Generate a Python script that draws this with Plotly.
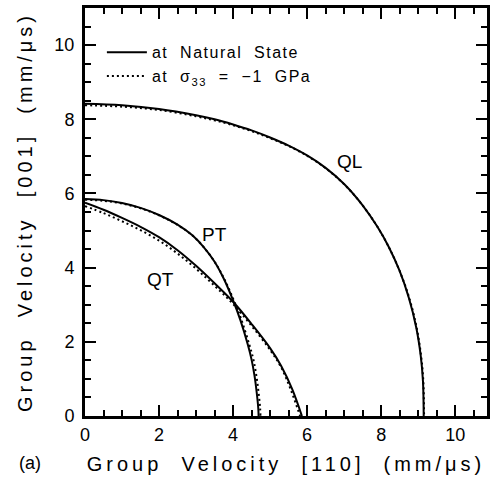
import plotly.graph_objects as go

# ---- data (mm/us) ----
ql_nat_x = [0, 1.0, 2.0, 3.0, 3.5, 4.0, 4.5, 5.0, 5.5, 6.0, 6.5, 7.0, 7.5, 7.9, 8.2, 8.5, 8.75, 8.95, 9.07, 9.13, 9.15]
ql_nat_y = [8.42, 8.38, 8.28, 8.11, 8.00, 7.86, 7.70, 7.51, 7.29, 7.025, 6.69, 6.255, 5.68, 5.10, 4.57, 3.91, 3.18, 2.38, 1.62, 0.94, 0]
ql_str_x = [0, 1.0, 2.0, 3.0, 3.5, 4.0, 4.5, 5.0, 5.5, 6.0, 6.5, 7.0, 7.5, 7.9, 8.2, 8.5, 8.76, 8.96, 9.08, 9.14, 9.16]
ql_str_y = [8.38, 8.34, 8.25, 8.08, 7.97, 7.84, 7.68, 7.49, 7.28, 7.015, 6.68, 6.25, 5.68, 5.10, 4.57, 3.91, 3.18, 2.38, 1.62, 0.94, 0]

pt_nat_x = [0, 0.5, 1.0, 1.5, 2.0, 2.5, 2.9, 3.2, 3.5, 3.75, 4.0, 4.2, 4.4, 4.5, 4.58, 4.64, 4.68, 4.69]
pt_nat_y = [5.85, 5.82, 5.74, 5.61, 5.42, 5.16, 4.87, 4.56, 4.16, 3.70, 3.12, 2.58, 1.92, 1.52, 1.08, 0.62, 0.22, 0]
pt_str_x = [0, 0.5, 1.0, 1.5, 2.0, 2.5, 2.9, 3.2, 3.5, 3.76, 4.02, 4.23, 4.44, 4.55, 4.63, 4.69, 4.73, 4.74]
pt_str_y = [5.83, 5.80, 5.73, 5.60, 5.41, 5.15, 4.87, 4.56, 4.16, 3.70, 3.12, 2.58, 1.92, 1.52, 1.08, 0.62, 0.22, 0]

qt_nat_x = [0, 0.5, 1.0, 1.5, 2.0, 2.5, 3.0, 3.5, 4.0, 4.5, 5.0, 5.3, 5.6, 5.86]
qt_nat_y = [5.75, 5.56, 5.34, 5.10, 4.82, 4.47, 4.05, 3.58, 3.08, 2.48, 1.83, 1.35, 0.72, 0]
qt_str_x = [0, 0.5, 1.0, 1.5, 2.0, 2.5, 3.0, 3.5, 4.0, 4.5, 5.0, 5.3, 5.57, 5.81]
qt_str_y = [5.66, 5.47, 5.25, 5.01, 4.73, 4.38, 3.97, 3.51, 3.02, 2.43, 1.78, 1.31, 0.68, 0]

labels = ["QL", "PT", "QT"]
label_x = [7.14, 3.51, 2.05]
label_y = [6.87, 4.89, 3.68]

legend_names = ["at  Natural  State", "at  σ<sub>33</sub>  =  \u22121  GPa"]

FONT = "Liberation Sans, Arial, sans-serif"

fig = go.Figure()

curves_nat = [(ql_nat_x, ql_nat_y), (pt_nat_x, pt_nat_y), (qt_nat_x, qt_nat_y)]
curves_str = [(ql_str_x, ql_str_y), (pt_str_x, pt_str_y), (qt_str_x, qt_str_y)]

for i, (cx, cy) in enumerate(curves_nat):
    fig.add_trace(go.Scatter(x=cx, y=cy, mode="lines",
                             line=dict(color="black", width=2, shape="spline", smoothing=1.0),
                             name=legend_names[0], showlegend=(i == 0), legendgroup="nat"))
for i, (cx, cy) in enumerate(curves_str):
    fig.add_trace(go.Scatter(x=cx, y=cy, mode="lines",
                             line=dict(color="black", width=2, dash="2px,3px", shape="spline", smoothing=1.0),
                             name=legend_names[1], showlegend=(i == 0), legendgroup="str"))

for t, lx, ly in zip(labels, label_x, label_y):
    fig.add_annotation(x=lx, y=ly, text=t, showarrow=False, font=dict(family=FONT, size=19, color="black"))

fig.add_annotation(xref="paper", yref="paper", x=-0.137, y=-0.115, xanchor="center", yanchor="middle",
                   text="(a)", showarrow=False, font=dict(family=FONT, size=18, color="black"))

axis_common = dict(
    showline=True, linecolor="black", linewidth=3, mirror="allticks",
    ticks="inside", ticklen=11, tickwidth=2, tickcolor="black",
    dtick=2, tick0=0, showgrid=False, zeroline=False, automargin=False,
    tickfont=dict(family=FONT, size=18, color="black"),
    minor=dict(dtick=0.5, ticks="inside", ticklen=6, tickwidth=1.5, tickcolor="black", showgrid=False),
)

fig.update_layout(
    width=495, height=481,
    margin=dict(l=85, r=8, t=8, b=65),
    paper_bgcolor="white", plot_bgcolor="white",
    font=dict(family=FONT, color="black"),
    xaxis=dict(range=[0, 10.86], title=dict(text="Group  Velocity  [110]  (mm/\u03bcs)",
               font=dict(family=FONT, size=20), standoff=14), **axis_common),
    yaxis=dict(range=[0, 11], title=dict(text="Group  Velocity  [001]  (mm/\u03bcs)",
               font=dict(family=FONT, size=20), standoff=17), ticklabelstandoff=4, **axis_common),
    legend=dict(x=0.042, y=0.933, xanchor="left", yanchor="top", bgcolor="rgba(0,0,0,0)", borderwidth=0,
                font=dict(family=FONT, size=16, color="black"), itemwidth=40, tracegroupgap=0),
    showlegend=True,
)

post = """
document.body.style.margin='0';
document.querySelectorAll('.xtitle, .ytitle').forEach(function(e){e.style.letterSpacing='4px';});
document.querySelectorAll('.legendtext').forEach(function(e){e.style.letterSpacing='1.5px';});
document.querySelectorAll('.legend .scrollbox, .legend').forEach(function(e){e.removeAttribute('clip-path');});
"""

fig.write_html("out.html", post_script=post, config={"displayModeBar": False})
